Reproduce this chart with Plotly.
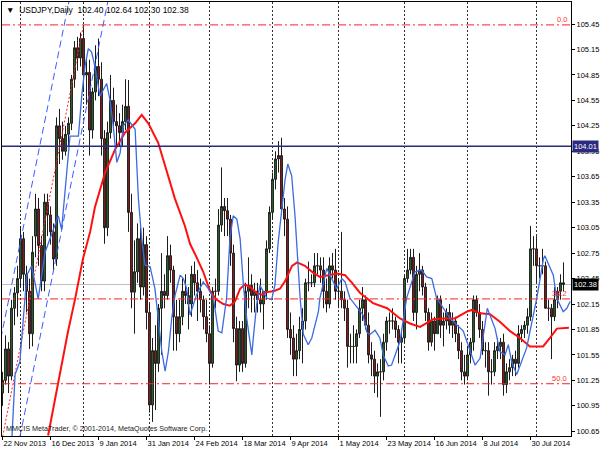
import plotly.graph_objects as go

# ---------------- data ----------------
tick_bars = [0, 16, 32, 48, 64, 80, 96, 112, 128, 144, 160, 176]
tick_text = ["22 Nov 2013", "16 Dec 2013", "9 Jan 2014", "31 Jan 2014", "24 Feb 2014",
             "18 Mar 2014", "9 Apr 2014", "1 May 2014", "23 May 2014", "16 Jun 2014",
             "8 Jul 2014", "30 Jul 2014"]
month_start_bars = [6, 27, 49, 69, 90, 112, 134, 155, 178]
y_ticks = [105.45, 105.15, 104.85, 104.55, 104.25, 103.95, 103.65, 103.35, 103.05, 102.75,
           102.45, 102.15, 101.85, 101.55, 101.25, 100.95, 100.65]

opens = [101.10, 101.25, 101.62, 101.30, 102.10, 102.28, 102.45, 102.92, 102.50, 102.30,
         101.80, 102.95, 103.27, 102.84, 102.42, 103.35, 103.20, 103.00, 102.68, 104.25,
         104.10, 103.95, 104.15, 104.28, 104.80, 105.17, 105.05, 105.28, 104.85, 104.88,
         104.20, 104.65, 104.95, 104.80, 104.10, 103.05, 104.17, 104.55, 104.30, 104.25,
         104.17, 104.30, 104.48, 103.23, 102.29, 102.53, 102.92, 102.35, 102.85, 102.05,
         100.96, 101.60, 101.45, 102.10, 102.30, 102.25, 102.72, 102.55, 102.00, 101.80,
         102.00, 102.30, 102.25, 102.15, 102.50, 102.40, 102.30, 102.20, 102.00, 101.80,
         101.45, 102.30, 102.30, 103.08, 103.30, 103.25, 103.15, 102.75, 101.86, 101.43,
         101.86, 101.45, 102.30, 102.37, 102.25, 102.30, 102.20, 102.15, 102.30, 102.80,
         103.23, 103.62, 103.86, 103.90, 103.27, 103.15, 101.85, 101.75, 101.50, 101.60,
         101.85, 101.95, 102.40, 102.40, 102.40, 102.60, 102.60, 102.55, 102.30, 102.15,
         102.60, 102.55, 102.30, 102.30, 102.20, 102.10, 101.65, 101.65, 101.65, 101.80,
         102.10, 102.20, 101.90, 101.55, 101.50, 101.30, 101.35, 101.35, 101.70, 101.95,
         101.95, 101.95, 101.85, 101.70, 101.75, 102.45, 102.55, 102.70, 102.05, 102.50,
         102.55, 102.35, 102.05, 101.70, 101.95, 101.80, 102.20, 101.90, 101.95, 102.05,
         101.90, 101.95, 101.80, 101.60, 101.35, 101.30, 101.55, 101.70, 102.20, 102.05,
         101.85, 101.60, 101.60, 101.35, 101.35, 101.60, 101.65, 101.70, 101.20, 101.35,
         101.40, 101.50, 101.45, 101.80, 101.85, 101.90, 102.00, 102.80, 102.80, 102.60,
         102.60, 102.60, 102.10, 102.10, 102.00, 102.20, 102.30, 102.40]
highs = [101.35, 101.78, 101.70, 102.20, 102.35, 102.60, 103.07, 103.00, 102.60, 102.45,
         102.95, 103.45, 103.40, 102.95, 103.45, 103.45, 103.30, 103.10, 104.35, 104.45,
         104.30, 104.25, 104.35, 104.85, 105.25, 105.30, 105.35, 105.44, 105.05, 105.03,
         104.70, 105.20, 105.28, 105.00, 104.20, 104.30, 104.85, 104.70, 104.50, 104.40,
         104.50, 104.80, 104.79, 103.45, 102.90, 103.10, 103.05, 103.05, 102.95, 102.15,
         101.75, 101.90, 102.15, 102.75, 102.50, 102.95, 102.85, 102.60, 102.20, 102.20,
         102.45, 102.50, 102.35, 102.60, 102.65, 102.55, 102.45, 102.25, 102.20, 101.90,
         102.35, 102.45, 103.27, 103.76, 103.40, 103.40, 103.20, 102.85, 102.00, 101.95,
         101.95, 102.40, 102.70, 102.50, 102.40, 102.40, 102.45, 102.30, 102.90, 103.30,
         103.70, 103.95, 104.07, 104.11, 103.40, 103.30, 102.05, 101.90, 101.80, 102.00,
         102.10, 102.45, 102.65, 102.50, 102.75, 102.75, 102.70, 102.70, 102.45, 102.70,
         102.75, 102.80, 102.45, 103.00, 102.30, 102.20, 101.80, 101.90, 101.85, 102.20,
         102.35, 102.25, 102.05, 101.70, 101.60, 101.45, 101.50, 101.80, 102.00, 102.05,
         102.10, 102.00, 101.90, 101.85, 102.50, 102.80, 102.80, 102.80, 102.60, 102.75,
         102.60, 102.40, 102.10, 102.05, 102.00, 102.25, 102.25, 102.05, 102.10, 102.15,
         102.05, 102.00, 101.90, 101.70, 101.55, 101.65, 101.75, 102.25, 102.25, 102.15,
         101.95, 101.70, 101.70, 101.50, 101.70, 101.75, 101.75, 101.80, 101.45, 101.50,
         101.55, 101.60, 101.90, 101.90, 101.95, 102.10, 103.07, 102.95, 102.95, 102.70,
         102.80, 102.65, 102.20, 102.15, 102.35, 102.35, 102.50, 102.64]
lows = [100.95, 101.20, 101.10, 101.25, 101.90, 102.00, 102.35, 102.30, 102.05, 101.62,
        101.65, 102.70, 102.60, 102.30, 102.30, 102.95, 102.85, 102.55, 102.60, 103.80,
        103.85, 103.90, 104.00, 104.20, 104.70, 104.90, 104.95, 104.65, 104.50, 103.90,
        104.10, 104.55, 104.60, 103.90, 102.86, 102.95, 104.10, 104.20, 104.00, 104.00,
        104.00, 104.20, 103.00, 102.10, 101.80, 102.40, 102.20, 102.25, 101.85, 100.87,
        100.76, 100.90, 101.35, 101.55, 102.10, 102.20, 102.40, 101.60, 101.60, 101.70,
        101.90, 102.15, 101.85, 102.00, 102.25, 101.95, 102.05, 101.85, 101.70, 101.20,
        101.40, 102.10, 102.25, 103.00, 102.95, 102.95, 102.60, 101.70, 101.24, 101.35,
        101.35, 101.40, 102.10, 102.05, 102.05, 102.05, 102.05, 101.85, 102.20, 102.75,
        103.15, 103.50, 103.70, 103.20, 102.95, 101.75, 101.55, 101.30, 101.30, 101.50,
        101.45, 101.85, 102.30, 102.35, 102.35, 102.50, 102.40, 102.10, 102.05, 102.10,
        102.45, 102.20, 102.10, 102.10, 101.95, 101.40, 101.45, 101.45, 101.45, 101.75,
        101.95, 101.85, 101.45, 101.30, 101.10, 101.05, 100.82, 101.25, 101.60, 101.80,
        101.85, 101.75, 101.45, 101.45, 101.70, 102.40, 102.50, 101.95, 101.85, 102.30,
        102.25, 101.95, 101.60, 101.65, 101.60, 101.80, 101.75, 101.65, 101.85, 101.80,
        101.75, 101.70, 101.50, 101.25, 101.20, 101.25, 101.45, 101.60, 102.00, 101.75,
        101.55, 101.40, 101.07, 101.20, 101.30, 101.50, 101.50, 101.07, 101.10, 101.25,
        101.30, 101.30, 101.40, 101.70, 101.75, 101.80, 101.95, 102.60, 102.40, 102.45,
        102.50, 102.10, 101.95, 101.50, 101.95, 102.10, 102.20, 102.30]
closes = [101.25, 101.62, 101.30, 102.10, 102.28, 102.45, 102.92, 102.50, 102.30, 101.80,
          102.76, 103.27, 102.84, 102.42, 103.35, 103.20, 103.00, 102.68, 104.25, 104.10,
          103.95, 104.15, 104.28, 104.80, 105.17, 105.05, 105.28, 104.85, 104.88, 104.20,
          104.65, 104.95, 104.80, 104.10, 103.05, 104.17, 104.55, 104.30, 104.25, 104.17,
          104.30, 104.48, 103.23, 102.29, 102.53, 102.92, 102.35, 102.85, 102.05, 100.96,
          101.60, 101.45, 102.10, 102.30, 102.25, 102.72, 102.55, 102.00, 101.80, 102.00,
          102.30, 102.25, 102.15, 102.50, 102.40, 102.30, 102.20, 102.00, 101.80, 101.45,
          102.30, 102.30, 103.08, 103.30, 103.25, 103.15, 102.75, 101.86, 101.43, 101.86,
          101.45, 102.30, 102.37, 102.25, 102.30, 102.20, 102.15, 102.30, 102.80, 103.23,
          103.62, 103.86, 103.90, 103.27, 103.15, 101.85, 101.75, 101.50, 101.60, 101.85,
          101.95, 102.40, 102.40, 102.40, 102.60, 102.60, 102.55, 102.30, 102.15, 102.60,
          102.55, 102.30, 102.30, 102.20, 102.10, 101.65, 101.65, 101.65, 101.80, 102.10,
          102.20, 101.90, 101.55, 101.50, 101.30, 101.35, 101.35, 101.70, 101.95, 101.95,
          101.95, 101.85, 101.70, 101.75, 102.45, 102.55, 102.70, 102.05, 102.50, 102.55,
          102.35, 102.05, 101.70, 101.95, 101.80, 102.20, 101.90, 101.95, 102.05, 101.90,
          101.95, 101.80, 101.60, 101.35, 101.30, 101.55, 101.70, 102.20, 102.05, 101.85,
          101.60, 101.60, 101.35, 101.35, 101.60, 101.65, 101.70, 101.20, 101.35, 101.40,
          101.50, 101.45, 101.80, 101.85, 101.90, 102.00, 102.80, 102.80, 102.60, 102.60,
          102.60, 102.10, 102.10, 102.00, 102.20, 102.30, 102.40, 102.38]

red_ma_bar = [15.2, 19.2, 21.8, 24.2, 26.8, 29.2, 30.8, 34.2, 37.5, 40.8, 44.2, 46.4, 48.6,
              51.9, 54.2, 57.5, 60.8, 62.5, 64.7, 66.9, 69.2, 71.4, 73.6, 75.8, 77.5, 79.2,
              80.8, 82.5, 84.7, 86.4, 88.1, 90.3, 92.5, 94.2, 96.5, 98.2, 100.8, 103.5,
              105.8, 109.2, 111.5, 114.2, 116.5, 119.2, 121.5, 123.5, 128.2, 132.5, 135.8,
              139.2, 143.5, 146.8, 150.8, 154.8, 156.5, 159.2, 162.5, 165.8, 169.2, 172.5,
              175.8, 180.2, 182.5, 184.8, 188.8]
red_ma_val = [100.60, 101.36, 101.82, 102.21, 102.68, 103.00, 103.29, 103.70, 103.97, 104.17,
              104.28, 104.38, 104.28, 104.05, 103.78, 103.39, 103.07, 102.86, 102.70, 102.53,
              102.30, 102.20, 102.15, 102.13, 102.18, 102.33, 102.38, 102.35, 102.28, 102.26,
              102.29, 102.30, 102.33, 102.42, 102.60, 102.64, 102.60, 102.52, 102.47, 102.49,
              102.51, 102.49, 102.40, 102.28, 102.22, 102.16, 102.10, 101.98, 101.92, 101.88,
              101.97, 101.98, 101.98, 102.06, 102.08, 102.04, 102.03, 101.94, 101.83, 101.75,
              101.65, 101.65, 101.75, 101.86, 101.87]

blue_ma_bar = [3.1, 4.2, 5.8, 8.1, 9.7, 11.9, 14.2, 15.8, 18.6, 19.7, 21.4, 22.5, 25.3, 26.4,
               27.5, 28.6, 29.7, 30.8, 32.5, 34.7, 35.8, 36.9, 38.1, 39.2, 40.3, 41.9, 44.2,
               45.3, 46.4, 47.5, 49.2, 50.8, 51.9, 53.1, 54.2, 55.3, 56.4, 57.5, 59.2, 60.3,
               61.4, 62.5, 64.7, 66.9, 68.6, 70.3, 71.9, 73.1, 74.7, 75.8, 76.9, 78.1, 79.2,
               80.3, 81.4, 82.5, 83.1, 83.6, 84.7, 85.8, 86.9, 88.1, 89.7, 90.8, 91.9, 93.1,
               94.2, 95.1, 96.4, 97.5, 98.1, 99.2, 100.3, 101.9, 103.1, 104.2, 105.3, 105.8,
               108.1, 109.7, 111.4, 113.1, 114.2, 115.8, 120.2, 121.4, 122.5, 124.2, 125.8,
               126.9, 128.6, 129.7, 130.8, 131.9, 132.5, 134.7, 137.5, 139.7, 141.4, 143.1,
               144.7, 149.2, 153.6, 157.5, 159.2, 161.6, 164.2, 165.8, 167.5, 168.6, 169.7,
               171.4, 174.7, 178.1, 180.3, 180.8, 182.5, 183.6, 184.7, 185.8, 186.9, 188.1,
               189.2]
blue_ma_val = [100.55, 101.32, 101.47, 102.49, 102.60, 102.21, 102.76, 102.92, 103.19, 103.03,
               103.70, 104.13, 104.13, 104.60, 104.95, 105.16, 105.12, 104.95, 104.60, 104.75,
               104.56, 104.25, 103.82, 103.93, 104.25, 104.32, 104.21, 103.39, 102.92, 102.61,
               102.59, 102.33, 101.98, 101.59, 101.36, 101.59, 101.98, 102.25, 102.49, 102.45,
               102.33, 102.02, 102.26, 102.41, 102.33, 102.22, 101.83, 101.81, 102.22, 102.92,
               103.19, 103.15, 102.92, 102.37, 101.98, 101.67, 101.55, 101.75, 102.14, 102.37,
               102.29, 102.22, 102.20, 102.37, 102.88, 103.31, 103.62, 103.80, 103.66, 103.19,
               102.80, 102.22, 101.79, 101.67, 101.75, 101.90, 102.06, 102.22, 102.57, 102.45,
               102.33, 102.45, 102.41, 102.22, 102.02, 101.82, 101.79, 101.84, 101.75, 101.55,
               101.42, 101.43, 101.55, 101.67, 101.71, 102.22, 102.53, 102.55, 102.47, 102.45,
               102.22, 101.98, 101.83, 101.43, 101.51, 102.10, 101.86, 101.59, 101.55, 101.67,
               101.47, 101.32, 101.63, 102.22, 102.68, 102.72, 102.59, 102.49, 102.22, 102.14,
               102.06, 102.10, 102.18]

fib_prices = [105.44, 102.21, 101.21]
fib_labels = ["0.0", "38.2", "50.0"]
fib_anchor_bar = [-20.0, 27.0]
fib_anchor_price = [96.98, 105.44]
channel_a_bar = [-10.0, 30.0]
channel_a_price = [100.09, 107.09]
channel_b_bar = [0.0, 40.0]
channel_b_price = [99.57, 106.57]
hline_price = 104.01
bid_price = 102.38
title_text = "USDJPY,Daily  102.40 102.64 102.30 102.38"
footer_text = "MMCIS MetaTrader, \u00a9 2001-2014, MetaQuotes Software Corp."

# ---------------- figure ----------------
FONT = "Liberation Sans, Arial, sans-serif"
bars = list(range(len(opens)))

fig = go.Figure()

fig.add_trace(go.Scatter(x=channel_a_bar, y=channel_a_price, mode="lines",
                         line=dict(color="#3b5cff", width=1, dash="7px,4px"),
                         hoverinfo="skip", showlegend=False))
fig.add_trace(go.Scatter(x=channel_b_bar, y=channel_b_price, mode="lines",
                         line=dict(color="#3b5cff", width=1, dash="7px,4px"),
                         hoverinfo="skip", showlegend=False))
fig.add_trace(go.Scatter(x=fib_anchor_bar, y=fib_anchor_price, mode="lines",
                         line=dict(color="#ff2020", width=1, dash="2px,2px"),
                         hoverinfo="skip", showlegend=False))

fig.add_trace(go.Candlestick(
    x=bars, open=opens, high=highs, low=lows, close=closes,
    increasing=dict(line=dict(color="#1c1c1c", width=1), fillcolor="#2f6a2f"),
    decreasing=dict(line=dict(color="#1c1c1c", width=1), fillcolor="#9a1a1a"),
    whiskerwidth=0, showlegend=False, hoverinfo="skip"))

fig.add_trace(go.Scatter(x=red_ma_bar, y=red_ma_val, mode="lines",
                         line=dict(color="#ff1010", width=2), hoverinfo="skip",
                         showlegend=False))
fig.add_trace(go.Scatter(x=blue_ma_bar, y=blue_ma_val, mode="lines",
                         line=dict(color="#3a6be0", width=1.3), hoverinfo="skip",
                         showlegend=False))

shapes = []
for b in month_start_bars:
    shapes.append(dict(type="line", xref="x", yref="paper", x0=b, x1=b, y0=0, y1=1,
                       line=dict(color="#303030", width=1, dash="2px,2px"), layer="below"))
for p in fib_prices:
    shapes.append(dict(type="line", xref="paper", yref="y", x0=0, x1=1, y0=p, y1=p,
                       line=dict(color="#ff2020", width=1, dash="8px,3px,2px,3px")))
shapes.append(dict(type="line", xref="paper", yref="y", x0=0, x1=1, y0=bid_price, y1=bid_price,
                   line=dict(color="#c0c0c0", width=1), layer="below"))
shapes.append(dict(type="line", xref="paper", yref="y", x0=0, x1=1, y0=hline_price,
                   y1=hline_price, line=dict(color="#2a2a80", width=1.5)))

annotations = []
for p, lab in zip(fib_prices, fib_labels):
    annotations.append(dict(x=0.997, xref="paper", y=p, yref="y", text=lab, showarrow=False,
                            xanchor="right", yanchor="bottom", yshift=-1,
                            font=dict(family=FONT, size=7.5, color="#ff3030")))
annotations.append(dict(x=1, xref="paper", y=hline_price, yref="y", text=f"{hline_price:.2f}",
                        showarrow=False, xanchor="left", yanchor="middle", xshift=1,
                        bgcolor="#2a2a80", borderpad=1,
                        font=dict(family=FONT, size=7.5, color="white")))
annotations.append(dict(x=1, xref="paper", y=bid_price, yref="y", text=f"{bid_price:.2f}",
                        showarrow=False, xanchor="left", yanchor="middle", xshift=1,
                        bgcolor="#000000", borderpad=1,
                        font=dict(family=FONT, size=7.5, color="white")))
annotations.append(dict(x=0.004, xref="paper", y=0.998, yref="paper",
                        text="\u25bc  " + title_text, showarrow=False,
                        xanchor="left", yanchor="top",
                        font=dict(family=FONT, size=8.5, color="#000000")))
annotations.append(dict(x=0.004, xref="paper", y=0.003, yref="paper", text=footer_text,
                        showarrow=False, xanchor="left", yanchor="bottom",
                        font=dict(family=FONT, size=7.2, color="#202020")))

fig.update_layout(
    width=600, height=450,
    margin=dict(l=2, r=29, t=2, b=14),
    paper_bgcolor="white", plot_bgcolor="white",
    showlegend=False, boxgap=0.12,
    shapes=shapes, annotations=annotations,
    xaxis=dict(range=[-0.17, 189.5], rangeslider=dict(visible=False), automargin=False,
               tickmode="array", tickvals=tick_bars, ticktext=tick_text,
               tickangle=0, ticks="outside", ticklen=3, tickcolor="#000000",
               ticklabelposition="outside right",
               tickfont=dict(family=FONT, size=7.5, color="#000000"),
               showgrid=False, zeroline=False, showline=True, linecolor="#000000",
               linewidth=1, mirror=True),
    yaxis=dict(range=[100.594, 105.71], side="right", automargin=False,
               tickmode="array", tickvals=y_ticks,
               ticktext=[f"{v:.2f}" for v in y_ticks],
               ticks="outside", ticklen=3, tickcolor="#000000",
               tickfont=dict(family=FONT, size=7.5, color="#000000"),
               showgrid=False, zeroline=False, showline=True, linecolor="#000000",
               linewidth=1, mirror=True),
)

fig.write_html("out.html", config={"displayModeBar": False},
               post_script="document.body.style.margin='0';document.body.style.padding='0';")
